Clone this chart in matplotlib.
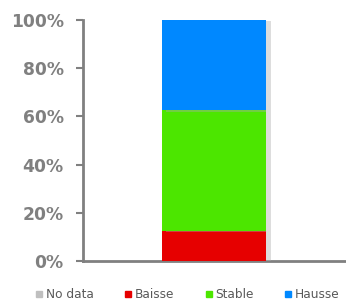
import matplotlib
matplotlib.use("Agg")
import matplotlib.pyplot as plt
import matplotlib.patheffects as pe
from matplotlib.lines import Line2D

categories = [""]
series = ["No data", "Baisse", "Stable", "Hausse"]
values = {
    "No data": [0.0],
    "Baisse": [12.5],
    "Stable": [50.0],
    "Hausse": [37.5],
}
colors = {
    "No data": "#BFBFBF",
    "Baisse": "#E60000",
    "Stable": "#4CE600",
    "Hausse": "#0088FF",
}
yticks = [0, 20, 40, 60, 80, 100]

grey = "#808080"
fig = plt.figure(figsize=(3.46, 3.03), dpi=100)
ax = fig.add_axes([0.24, 0.139, 0.757, 0.795])

bottom = [0.0] * len(categories)
for name in series:
    vals = values[name]
    if sum(vals) > 0:
        bars = ax.bar(range(len(categories)), vals, bottom=bottom, width=0.4,
                      color=colors[name], linewidth=0, zorder=3)
        for b in bars:
            b.set_path_effects([pe.SimplePatchShadow(offset=(3, -1), shadow_rgbFace="#aaaaaa", alpha=0.4),
                                pe.Normal()])
    bottom = [b + v for b, v in zip(bottom, vals)]

ax.set_xlim(-0.5, 0.5)
ax.set_ylim(0, 100)
ax.set_yticks(yticks)
ax.set_yticklabels([f"{t}%" for t in yticks], fontsize=12.3, fontweight="bold", color=grey)
ax.set_xticks([])
for s in ["top", "right"]:
    ax.spines[s].set_visible(False)
for s in ["left", "bottom"]:
    ax.spines[s].set_color(grey)
    ax.spines[s].set_linewidth(2)
ax.tick_params(axis="y", length=5, width=1.5, color=grey, pad=9)

handles = [Line2D([], [], marker="s", linestyle="none", markersize=4.5,
                  markerfacecolor=colors[n], markeredgecolor=colors[n]) for n in series]
fig.legend(handles, series, loc="lower center", ncol=4, frameon=False,
           bbox_to_anchor=(0.54, -0.03), fontsize=8.7, labelcolor="#595959",
           handletextpad=0.1, columnspacing=2.5, handlelength=0.8)

fig.savefig("out.png", dpi=100)
